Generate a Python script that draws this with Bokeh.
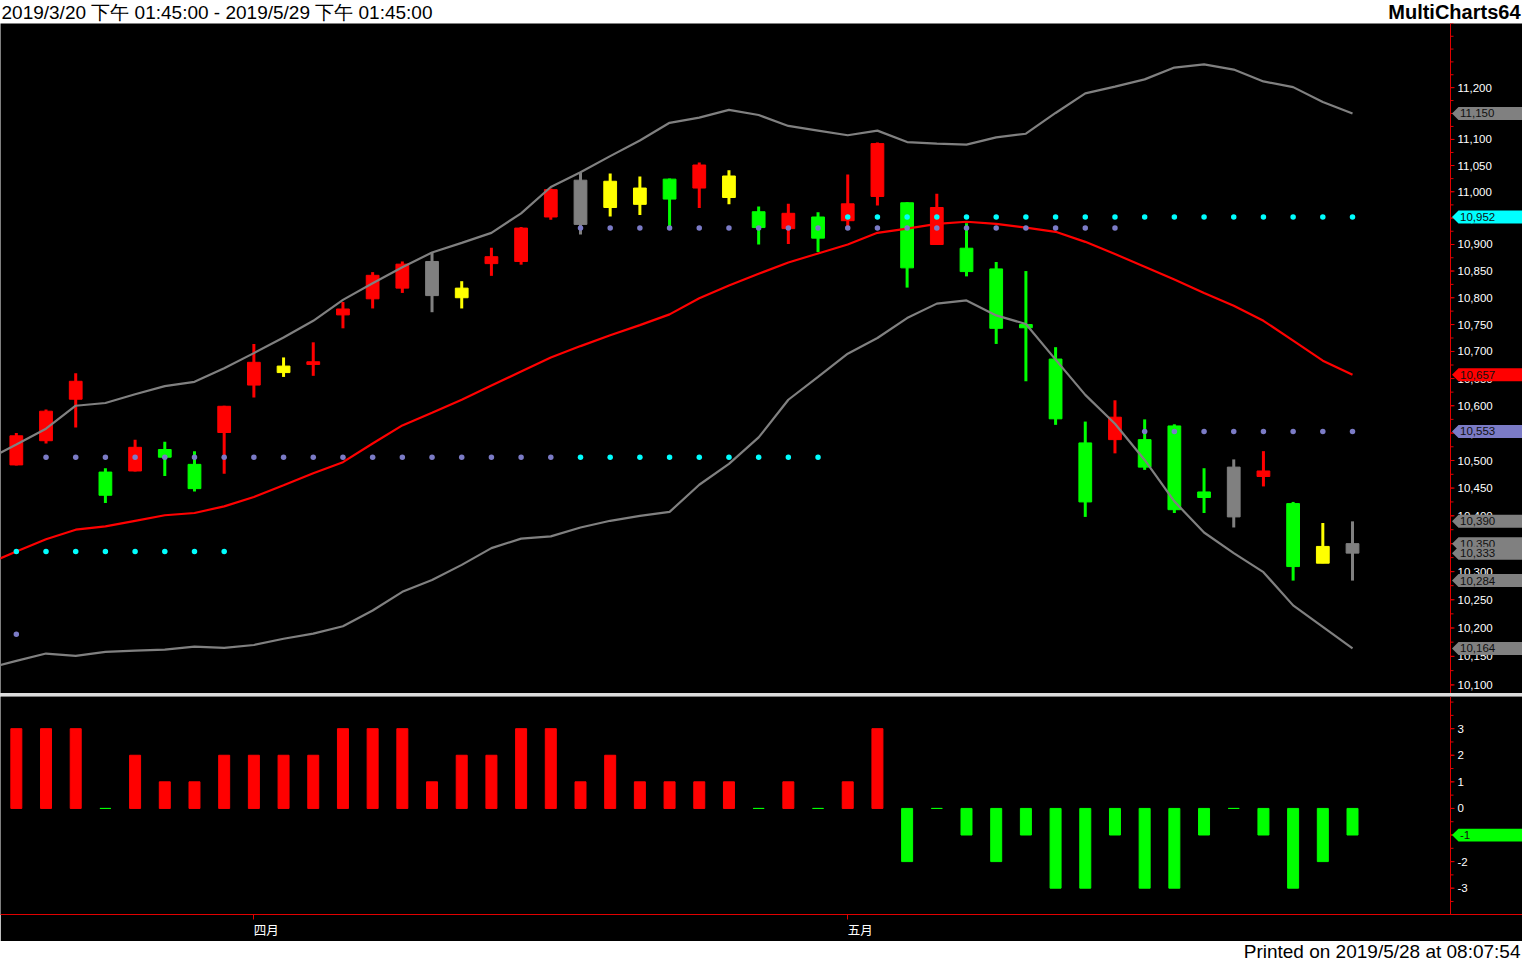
import math
from bokeh.plotting import figure
from bokeh.models import Range1d, FixedTicker, Span, Spacer
from bokeh.layouts import column
from bokeh.embed import file_html
from bokeh.resources import INLINE
from bokeh.core.properties import value

# ---------------- data ----------------
header_text = "2019/3/20 下午 01:45:00 - 2019/5/29 下午 01:45:00"
brand_text = "MultiCharts64"
footer_text = "Printed on 2019/5/28 at 08:07:54"

bar_index = list(range(46))
opens = [10492, 10536, 10612, 10479, 10481, 10520, 10493, 10551, 10638, 10661,
         10676, 10768, 10798, 10818, 10868, 10800, 10864, 10868, 10952, 11022,
         10970, 10976, 11024, 11007, 10989, 10962, 10930, 10952, 10945, 10991,
         10979, 10900, 10893, 10854, 10750, 10686, 10532, 10538, 10538, 10563,
         10443, 10488, 10471, 10422, 10315, 10350]
highs = [10550, 10593, 10660, 10486, 10538, 10534, 10517, 10600, 10714, 10689,
         10717, 10792, 10848, 10868, 10886, 10831, 10894, 10933, 11006, 11036,
         11035, 11029, 11025, 11056, 11041, 10972, 10977, 10961, 11033, 11094,
         10980, 10996, 10940, 10867, 10850, 10708, 10571, 10610, 10575, 10566,
         10486, 10502, 10517, 10425, 10387, 10390]
lows = [10491, 10531, 10560, 10423, 10480, 10472, 10444, 10476, 10615, 10653,
        10655, 10743, 10780, 10809, 10773, 10780, 10841, 10862, 10947, 10919,
        10953, 10956, 10935, 10969, 10976, 10900, 10901, 10886, 10935, 10974,
        10819, 10900, 10840, 10714, 10645, 10565, 10398, 10513, 10483, 10405,
        10405, 10379, 10453, 10284, 10315, 10284]
closes = [10545, 10590, 10645, 10437, 10524, 10506, 10449, 10599, 10680, 10673,
          10681, 10779, 10842, 10863, 10804, 10818, 10877, 10931, 11004, 10938,
          11020, 11007, 10986, 11051, 11030, 10932, 10959, 10912, 10977, 11092,
          10856, 10970, 10849, 10743, 10744, 10576, 10425, 10579, 10488, 10411,
          10433, 10398, 10481, 10309, 10345, 10333]
# bar state: R = red, G = green, Y = yellow, N = neutral (gray)
bar_state = ["R", "R", "R", "G", "R", "G", "G", "R", "R", "Y",
             "R", "R", "R", "R", "N", "Y", "R", "R", "R", "N",
             "Y", "Y", "G", "R", "Y", "G", "R", "G", "R", "R",
             "G", "R", "G", "G", "G", "G", "G", "R", "G", "G",
             "G", "N", "R", "G", "Y", "N"]

band_index = list(range(-1, 46))
upper_band = [10501, 10529, 10558, 10600, 10605, 10621, 10636, 10644, 10669, 10697,
              10726, 10757, 10796, 10827, 10857, 10885, 10903, 10922, 10959, 11009,
              11037, 11068, 11098, 11132, 11142, 11157, 11147, 11126, 11117, 11108,
              11117, 11095, 11092, 11090, 11104, 11111, 11151, 11189, 11202, 11216,
              11239, 11245, 11235, 11212, 11201, 11172, 11150]
mid_line = [10313, 10336, 10358, 10375, 10381, 10391, 10401, 10405, 10417, 10434,
            10455, 10477, 10497, 10531, 10564, 10587, 10611, 10637, 10663, 10689,
            10710, 10730, 10749, 10769, 10799, 10823, 10845, 10866, 10883, 10900,
            10922, 10930, 10939, 10943, 10939, 10932, 10924, 10905, 10882, 10858,
            10834, 10809, 10785, 10757, 10720, 10683, 10657]
lower_band = [10129, 10142, 10155, 10151, 10158, 10160, 10162, 10167, 10165, 10170,
              10181, 10190, 10203, 10231, 10264, 10285, 10312, 10342, 10359, 10363,
              10379, 10391, 10400, 10407, 10456, 10494, 10542, 10611, 10653, 10696,
              10725, 10762, 10789, 10795, 10767, 10751, 10685, 10620, 10567, 10501,
              10426, 10370, 10333, 10299, 10240, 10202, 10164]

# level dots (None = no dot on that bar)
level_cyan = [10336] * 8 + [None] * 11 + [10506] * 9 + [10952] * 18
level_slate = [10189] + [10506] * 18 + [10931] * 19 + [10553] * 8

# lower panel histogram
histogram = [3, 3, 3, 0, 2, 1, 1, 2, 2, 2,
             2, 3, 3, 3, 1, 2, 2, 3, 3, 1,
             2, 1, 1, 1, 1, 0, 1, 0, 1, 3,
             -2, 0, -1, -2, -1, -3, -3, -1, -3, -3,
             -1, 0, -1, -3, -2, -1]

month_start_index = [8, 28]
month_labels = ["四月", "五月"]

price_ticks = list(range(10100, 11201, 50))
price_minor = list(range(10075, 11326, 25))
hist_ticks = [3, 2, 1, 0, -1, -2, -3]
hist_minor = [v / 2 for v in range(-8, 9)]

# ---------------- styling ----------------
STATE_COLORS = {"R": "#FF0000", "G": "#00FF00", "Y": "#FFFF00", "N": "#808080"}
AXIS_RED = "#E00000"
SLATE = "#7B7BC6"
LABEL_FONT = "Liberation Sans"
TICK_FS = "11.5px"
W = 1522
AXIS_W = 72
X0, X1 = -0.533, 48.3          # X1 = right edge of the data area (price scale line)
PPB = (W - AXIS_W) / (X1 - X0)  # pixels per bar
XEND = X1 + AXIS_W / PPB
x_range = Range1d(X0, XEND)

def px(n):
    return n / PPB

# ---------------- header ----------------
header = figure(width=W, height=23, x_range=Range1d(0, W), y_range=Range1d(0, 23),
                toolbar_location=None, output_backend="svg",
                x_axis_location=None, y_axis_location=None,
                min_border=0, outline_line_color=None,
                background_fill_color="white", border_fill_color="white")
header.grid.visible = False
header.text(x=[1], y=[11.5], text=[header_text], text_font=value(LABEL_FONT),
            text_font_size="19px", text_color="black", text_baseline="middle", text_align="left")
header.text(x=[W - 2], y=[11.5], text=[brand_text], text_font=value(LABEL_FONT),
            text_font_size="20px", text_font_style="bold", text_color="black",
            text_baseline="middle", text_align="right")

# ---------------- price panel ----------------
P_LO, P_HI = 10085, 11325
PRICE_H = 670
price = figure(width=W, height=PRICE_H, x_range=x_range, y_range=Range1d(P_LO, P_HI),
               y_axis_type="log", x_axis_location=None, y_axis_location=None,
               toolbar_location=None, output_backend="svg", min_border=0,
               background_fill_color="black", border_fill_color="black", outline_line_color=None)
price.grid.visible = False

colors = [STATE_COLORS[s] for s in bar_state]
body_top = [max(o, c) for o, c in zip(opens, closes)]
body_bot = [min(o, c) for o, c in zip(opens, closes)]
price.segment(x0=bar_index, y0=lows, x1=bar_index, y1=highs, line_color=colors, line_width=3)
price.vbar(x=bar_index, width=0.43, top=body_top, bottom=body_bot,
           fill_color=colors, line_color=colors, line_width=1)

price.line(band_index, upper_band, line_color="#808080", line_width=2.2)
price.line(band_index, lower_band, line_color="#808080", line_width=2.2)
price.line(band_index, mid_line, line_color="#FF0000", line_width=2.2)

cx = [i for i, v in zip(bar_index, level_cyan) if v is not None]
cy = [v for v in level_cyan if v is not None]
sx = [i for i, v in zip(bar_index, level_slate) if v is not None]
sy = [v for v in level_slate if v is not None]
price.scatter(sx, sy, size=5.5, fill_color=SLATE, line_color=None)
price.scatter(cx, cy, size=5.5, fill_color="#00FFFF", line_color=None)

# price scale on the right (line, ticks, labels) through the figure's y scale
price.add_layout(Span(location=X1, dimension="height", line_color=AXIS_RED, line_width=1))
price.segment(x0=[X1] * len(price_minor), y0=price_minor, x1=[X1 + px(3)] * len(price_minor),
              y1=price_minor, line_color=AXIS_RED, line_width=1)
price.segment(x0=[X1] * len(price_ticks), y0=price_ticks, x1=[X1 + px(4)] * len(price_ticks),
              y1=price_ticks, line_color=AXIS_RED, line_width=1)
price.text(x=[X1 + px(7)] * len(price_ticks), y=price_ticks, text=[f"{t:,}" for t in price_ticks],
           text_font=value(LABEL_FONT), text_font_size=TICK_FS, text_color="white",
           text_baseline="middle", text_align="left")

# value flags
half_log = 6.5 * math.log(P_HI / P_LO) / PRICE_H
x_tip, x_sh, x_txt = X1 + px(1.5), X1 + px(8), X1 + px(9.5)

def price_flag(v, color):
    top, bot = v * math.exp(half_log), v * math.exp(-half_log)
    price.patch(x=[x_tip, x_sh, XEND, XEND, x_sh], y=[v, top, top, bot, bot],
                fill_color=color, line_color=None)
    price.text(x=[x_txt], y=[v], text=[f"{v:,}"], text_font=value(LABEL_FONT),
               text_font_size=TICK_FS, text_color="#101010", text_baseline="middle", text_align="left")

price_flag(upper_band[-1], "#808080")
price_flag(level_cyan[-1], "#00FFFF")
price_flag(mid_line[-1], "#FF0000")
price_flag(level_slate[-1], SLATE)
price_flag(highs[-1], "#808080")
price_flag(opens[-1], "#808080")
price_flag(closes[-1], "#808080")
price_flag(lows[-1], "#808080")
price_flag(lower_band[-1], "#808080")

# ---------------- separator ----------------
sep = Spacer(width=W, height=3, styles={"background-color": "#dcdcdc"})

# ---------------- indicator panel ----------------
H_LO, H_HI = -3.99, 4.21
IND_H = 245
ind = figure(width=W, height=IND_H, x_range=x_range, y_range=Range1d(H_LO, H_HI),
             x_axis_location="below", y_axis_location=None,
             toolbar_location=None, output_backend="svg", min_border=0,
             background_fill_color="black", border_fill_color="black", outline_line_color=None)
ind.grid.visible = False

xa = ind.xaxis[0]
xa.ticker = FixedTicker(ticks=month_start_index, minor_ticks=[])
xa.major_label_overrides = {i: "\u3000\u3000" + m for i, m in zip(month_start_index, month_labels)}
xa.axis_line_color = AXIS_RED
xa.major_tick_line_color = AXIS_RED
xa.major_tick_out = 5
xa.major_tick_in = 0
xa.minor_tick_line_color = None
xa.major_label_text_color = "white"
xa.major_label_text_font = "Noto Sans CJK TC"
xa.major_label_text_font_size = "12.5px"
xa.major_label_standoff = 0

hist_colors = ["#FF0000" if h > 0 else "#00FF00" for h in histogram]
ind.vbar(x=bar_index, width=0.37, top=histogram, bottom=0,
         fill_color=hist_colors, line_color=hist_colors, line_width=1)

ind.add_layout(Span(location=X1, dimension="height", line_color=AXIS_RED, line_width=1))
ind.segment(x0=[X1] * len(hist_minor), y0=hist_minor, x1=[X1 + px(3)] * len(hist_minor),
            y1=hist_minor, line_color=AXIS_RED, line_width=1)
ind.segment(x0=[X1] * len(hist_ticks), y0=hist_ticks, x1=[X1 + px(4)] * len(hist_ticks),
            y1=hist_ticks, line_color=AXIS_RED, line_width=1)
ind.text(x=[X1 + px(7)] * len(hist_ticks), y=hist_ticks, text=[str(t) for t in hist_ticks],
         text_font=value(LABEL_FONT), text_font_size=TICK_FS, text_color="white",
         text_baseline="middle", text_align="left")

ind_frame_h = IND_H - 23
half_lin = 6.5 * (H_HI - H_LO) / ind_frame_h
hv = histogram[-1]
ind.patch(x=[x_tip, x_sh, XEND, XEND, x_sh],
          y=[hv, hv + half_lin, hv + half_lin, hv - half_lin, hv - half_lin],
          fill_color="#00FF00", line_color=None)
ind.text(x=[x_txt], y=[hv], text=[f"{hv}"], text_font=value(LABEL_FONT), text_font_size=TICK_FS,
         text_color="#101010", text_baseline="middle", text_align="left")

# ---------------- footer ----------------
footer = figure(width=W, height=20, x_range=Range1d(0, W), y_range=Range1d(0, 20),
                toolbar_location=None, output_backend="svg",
                x_axis_location=None, y_axis_location=None,
                min_border=0, outline_line_color=None,
                background_fill_color="white", border_fill_color="white")
footer.grid.visible = False
footer.text(x=[W - 2], y=[10], text=[footer_text], text_font=value(LABEL_FONT),
            text_font_size="19px", text_color="black", text_baseline="middle", text_align="right")

layout = column(header, price, sep, ind, footer, spacing=0)
open("out.html", "w").write(file_html(layout, INLINE))
